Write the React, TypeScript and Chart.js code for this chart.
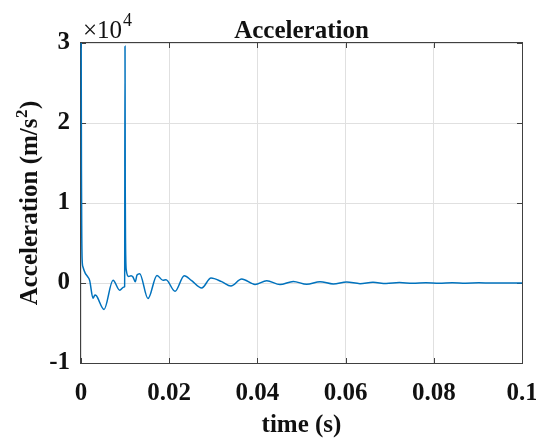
import React, { useEffect, useRef } from "react";
import { Chart, registerables } from "chart.js";

Chart.register(...registerables);

// ---- data (time in s, acceleration in m/s^2) ----
const timeS: number[] = [
  0.00004, 0.0001, 0.00016, 0.00025, 0.00045, 0.00098, 0.0015, 0.00197, 0.00272, 0.00317,
  0.0035, 0.00522, 0.00726, 0.00878, 0.00975, 0.0099, 0.00998, 0.01003, 0.0101, 0.01027,
  0.01082, 0.01134, 0.01179, 0.01231, 0.0127, 0.01331, 0.01519, 0.01723, 0.01859, 0.01927,
  0.02132, 0.02342, 0.0251, 0.02737, 0.02948, 0.0319, 0.034, 0.03644, 0.03946, 0.04211,
  0.04512, 0.04814, 0.05118, 0.0542, 0.05721, 0.06025, 0.06327, 0.06621, 0.0692, 0.0722,
  0.0752, 0.0782, 0.0812, 0.0842, 0.0872, 0.0902, 0.0932, 0.0962, 0.1,
];
const accel: number[] = [
  30000, 14000, 7000, 3000, 2000, 1200, 800, 300, -1900, -1500,
  -1600, -3300, 350, -900, -500, -450, 29600, 12000, 5000, 1600,
  800, 900, 750, 150, 1000, 1150, -1950, 950, 330, 420,
  -1040, 920, 290, -625, 625, 170, -380, 500, -180, 290,
  -200, 200, -170, 170, -125, 125, -80, 80, -60, 55,
  -45, 40, -30, 28, -20, 18, -12, 10, 0,
];

const xTicks: number[] = [0, 0.02, 0.04, 0.06, 0.08, 0.1];
const yTicks: number[] = [-1, 0, 1, 2, 3]; // in units of 10^4
const yExponent = 4;

const titleText = "Acceleration";
const xTitle = "time (s)";
const yTitleMain = "Acceleration (m/s";
const yTitleSup = "2";
const yTitleEnd = ")";

const FONT = "'Liberation Serif', 'Times New Roman', serif";
const TEXT_COLOR = "#111111";
const AXIS_COLOR = "#404040";
const GRID_COLOR = "#e0e0e0";
const LINE_COLOR = "#0072BD";

const decorPlugin = {
  id: "matlabDecor",
  beforeDatasetsDraw(chart: any) {
    const { ctx, chartArea } = chart;
    const { left, right, top, bottom } = chartArea;
    const xs = chart.scales.x;
    const ys = chart.scales.y;
    ctx.save();
    ctx.strokeStyle = AXIS_COLOR;
    ctx.lineWidth = 1;
    ctx.strokeRect(Math.round(left) - 0.5, Math.round(top) - 0.5, Math.round(right - left) + 1, Math.round(bottom - top) + 1);
    const tl = 5;
    ctx.beginPath();
    xTicks.forEach((v) => {
      const px = Math.round(xs.getPixelForValue(v)) + 0.5;
      ctx.moveTo(px, bottom);
      ctx.lineTo(px, bottom - tl);
      ctx.moveTo(px, top);
      ctx.lineTo(px, top + tl);
    });
    yTicks.forEach((v) => {
      const py = Math.round(ys.getPixelForValue(v * Math.pow(10, yExponent))) + 0.5;
      ctx.moveTo(left, py);
      ctx.lineTo(left + tl, py);
      ctx.moveTo(right, py);
      ctx.lineTo(right - tl, py);
    });
    ctx.stroke();
    ctx.restore();
  },
  afterDraw(chart: any) {
    const { ctx, chartArea } = chart;
    const { left, right, top, bottom } = chartArea;
    ctx.save();
    ctx.fillStyle = TEXT_COLOR;
    // title
    ctx.font = `bold 25px ${FONT}`;
    ctx.textAlign = "center";
    ctx.textBaseline = "alphabetic";
    ctx.fillText(titleText, (left + right) / 2, 37.5);
    // x title
    ctx.fillText(xTitle, (left + right) / 2, 432);

    // exponent label
    ctx.font = `25px ${FONT}`;
    ctx.textAlign = "left";
    const base = "\u00d710";
    ctx.fillText(base, left + 2, 37.5);
    const bw = ctx.measureText(base).width;
    ctx.font = `18px ${FONT}`;
    ctx.fillText(String(yExponent), left + 2 + bw + 1, 26);

    // y title rotated with superscript
    ctx.save();
    ctx.translate(37, (top + bottom) / 2);
    ctx.rotate(-Math.PI / 2);
    ctx.font = `bold 25px ${FONT}`;
    const w1 = ctx.measureText(yTitleMain).width;
    const w3 = ctx.measureText(yTitleEnd).width;
    ctx.font = `bold 17px ${FONT}`;
    const w2 = ctx.measureText(yTitleSup).width;
    const total = w1 + w2 + w3 + 1;
    let x0 = -total / 2;
    ctx.textAlign = "left";
    ctx.font = `bold 25px ${FONT}`;
    ctx.fillText(yTitleMain, x0, 0);
    x0 += w1;
    ctx.font = `bold 17px ${FONT}`;
    ctx.fillText(yTitleSup, x0 + 0.5, -10);
    x0 += w2 + 1;
    ctx.font = `bold 25px ${FONT}`;
    ctx.fillText(yTitleEnd, x0, 0);
    ctx.restore();

    ctx.restore();
  },
};

export default function App() {
  const canvasRef = useRef<HTMLCanvasElement | null>(null);

  useEffect(() => {
    const canvas = canvasRef.current;
    if (!canvas) return;
    const points = timeS.map((t, i) => ({ x: t, y: accel[i] }));
    const chart = new Chart(canvas, {
      type: "line",
      data: {
        datasets: [
          {
            data: points,
            borderColor: LINE_COLOR,
            borderWidth: 1.5,
            pointRadius: 0,
            fill: false,
            clip: 2,
            cubicInterpolationMode: "monotone",
          },
        ],
      },
      options: {
        responsive: false,
        animation: false,
        events: [],
        layout: { padding: { top: 43, right: 14, left: 0, bottom: 0 }, autoPadding: false },
        plugins: { legend: { display: false }, title: { display: false }, tooltip: { enabled: false } },
        scales: {
          x: {
            type: "linear",
            min: 0,
            max: 0.1,
            afterBuildTicks: (s: any) => {
              s.ticks = xTicks.map((v) => ({ value: v }));
            },
            afterFit: (s: any) => {
              s.height = 441 - 363;
              s.paddingLeft = 0;
              s.paddingRight = 0;
            },
            ticks: {
              autoSkip: false,
              maxRotation: 0,
              padding: 16,
              color: TEXT_COLOR,
              font: { family: FONT, size: 25, weight: "bold" },
              callback: (v: any) => String(Number(Number(v).toFixed(2))),
            },
            grid: { color: GRID_COLOR, drawTicks: false, lineWidth: 1 },
            border: { display: false },
          },
          y: {
            type: "linear",
            min: yTicks[0] * Math.pow(10, yExponent),
            max: yTicks[yTicks.length - 1] * Math.pow(10, yExponent),
            afterBuildTicks: (s: any) => {
              s.ticks = yTicks.map((v) => ({ value: v * Math.pow(10, yExponent) }));
            },
            afterFit: (s: any) => {
              s.width = 81;
              s.paddingTop = 0;
              s.paddingBottom = 0;
            },
            ticks: {
              autoSkip: false,
              padding: 11,
              color: TEXT_COLOR,
              font: { family: FONT, size: 25, weight: "bold" },
              callback: (v: any) => String(Math.round(Number(v) / Math.pow(10, yExponent))),
            },
            grid: { color: GRID_COLOR, drawTicks: false, lineWidth: 1 },
            border: { display: false },
          },
        },
      },
      plugins: [decorPlugin],
    });
    return () => chart.destroy();
  }, []);

  return (
    <div style={{ position: "absolute", left: 0, top: 0, width: 536, height: 441, background: "#fff" }}>
      <canvas ref={canvasRef} width={536} height={441} style={{ display: "block" }} />
    </div>
  );
}
